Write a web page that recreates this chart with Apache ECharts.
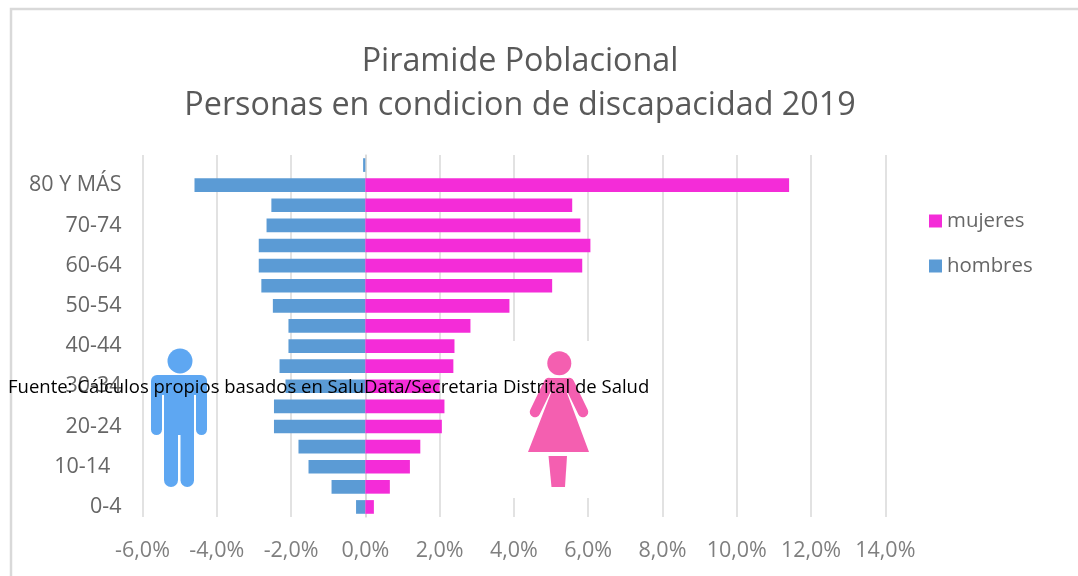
<!DOCTYPE html>
<html><head><meta charset="utf-8">
<script src="https://cdn.jsdelivr.net/npm/echarts@6/dist/echarts.min.js"></script>
<style>html,body{margin:0;padding:0;background:#fff}#c{width:1078px;height:576px}</style>
</head><body><div id="c"></div>
<script>
const categories = ['0-4','5-9','10-14  ','15-19','20-24','25-29','30-34','35-39','40-44','45-49','50-54','55-59','60-64','65-69','70-74','75-79','80 Y MÁS',''];
const hombres = [-0.25,-0.91,-1.53,-1.80,-2.46,-2.46,-2.15,-2.31,-2.07,-2.07,-2.49,-2.80,-2.87,-2.87,-2.66,-2.53,-4.60,-0.06];
const mujeres = [0.23,0.66,1.20,1.48,2.06,2.13,2.00,2.37,2.40,2.83,3.88,5.03,5.84,6.06,5.79,5.57,11.41,0];
const titleLines = ['Piramide Poblacional','Personas en condicion de discapacidad 2019'];
const sourceNote = 'Fuente: Cálculos propios basados en SaluData/Secretaria Distrital de Salud';
const font = '"Open Sans","Noto Sans",sans-serif';
const manColor = '#5ea7f2', womanColor = '#f45fb0';
const chart = echarts.init(document.getElementById('c'), null, {renderer:'canvas'});
const rr = (x,y,width,height,r,fill) => ({type:'rect',z:10,shape:{x,y,width,height,r},style:{fill}});
chart.setOption({
  animation:false,
  backgroundColor:'#fff',
  grid:{left:142.5,width:742.8,top:155,height:362},
  xAxis:{type:'value',min:-6,max:14,interval:2,
    axisLine:{show:false},axisTick:{show:false},
    splitLine:{show:true,lineStyle:{color:'#d9d9d9',width:1.5}},
    axisLabel:{color:'#7f7f7f',fontFamily:font,fontSize:21.5,margin:23,
      formatter:v=>v.toFixed(1).replace('.',',')+'%'}},
  yAxis:{type:'category',data:categories,
    axisLine:{show:true,onZero:true,lineStyle:{color:'#d9d9d9',width:1.5}},axisTick:{show:false},
    axisLabel:{color:'#666',fontFamily:font,fontSize:21.5,interval:1,margin:21}},
  legend:{orient:'vertical',left:924,top:206,itemWidth:13,itemHeight:13,itemGap:25,icon:'rect',
    data:['mujeres','hombres'],
    textStyle:{color:'#666',fontFamily:font,fontSize:20.4}},
  series:[
    {name:'hombres',type:'bar',data:hombres,barGap:'-100%',barCategoryGap:'32%',itemStyle:{color:'#5b9bd5'}},
    {name:'mujeres',type:'bar',data:mujeres,barGap:'-100%',barCategoryGap:'32%',itemStyle:{color:'#f42cd8'}}
  ],
  graphic:[
    {type:'rect',shape:{x:11,y:9,width:1100,height:600},style:{fill:'none',stroke:'#d9d9d9',lineWidth:2.5},silent:true},
    {type:'text',x:520,y:62,style:{text:titleLines[0],font:'32.3px '+font,fill:'#595959',textAlign:'center',textVerticalAlign:'middle'}},
    {type:'text',x:520,y:106,style:{text:titleLines[1],font:'32.3px '+font,fill:'#595959',textAlign:'center',textVerticalAlign:'middle'}},
    rr(506,341,90,157,0,'#fff'),
    {type:'circle',z:10,shape:{cx:180,cy:361,r:12.5},style:{fill:manColor}},
    rr(151,375,56,20,[6,6,0,0],manColor),
    rr(151,385,11,50,[0,0,5.5,5.5],manColor),
    rr(196,385,11,50,[0,0,5.5,5.5],manColor),
    rr(164,385,30,50,0,manColor),
    rr(164,420,14,67,[0,0,7,7],manColor),
    rr(180.5,420,13.5,67,[0,0,7,7],manColor),
    rr(178,420,2.5,10,0,manColor),
    {type:'circle',z:10,shape:{cx:559.3,cy:363.3,r:12},style:{fill:womanColor}},
    {type:'polygon',z:10,shape:{points:[[528,452],[551,393],[548,378],[570,378],[567,393],[589,452]]},style:{fill:womanColor}},
    {type:'polyline',z:10,shape:{points:[[549,383],[535,412]]},style:{stroke:womanColor,lineWidth:10.5,lineCap:'round',fill:'none'}},
    {type:'polyline',z:10,shape:{points:[[569,383],[583,412]]},style:{stroke:womanColor,lineWidth:10.5,lineCap:'round',fill:'none'}},
    {type:'polygon',z:10,shape:{points:[[548.5,456],[567,456],[565,487],[551.5,487]]},style:{fill:womanColor}},
    {type:'text',z:11,x:8,y:388,style:{text:sourceNote,font:'18.5px '+font,fill:'#000',textAlign:'left',textVerticalAlign:'middle'}}
  ]
});
</script></body></html>
